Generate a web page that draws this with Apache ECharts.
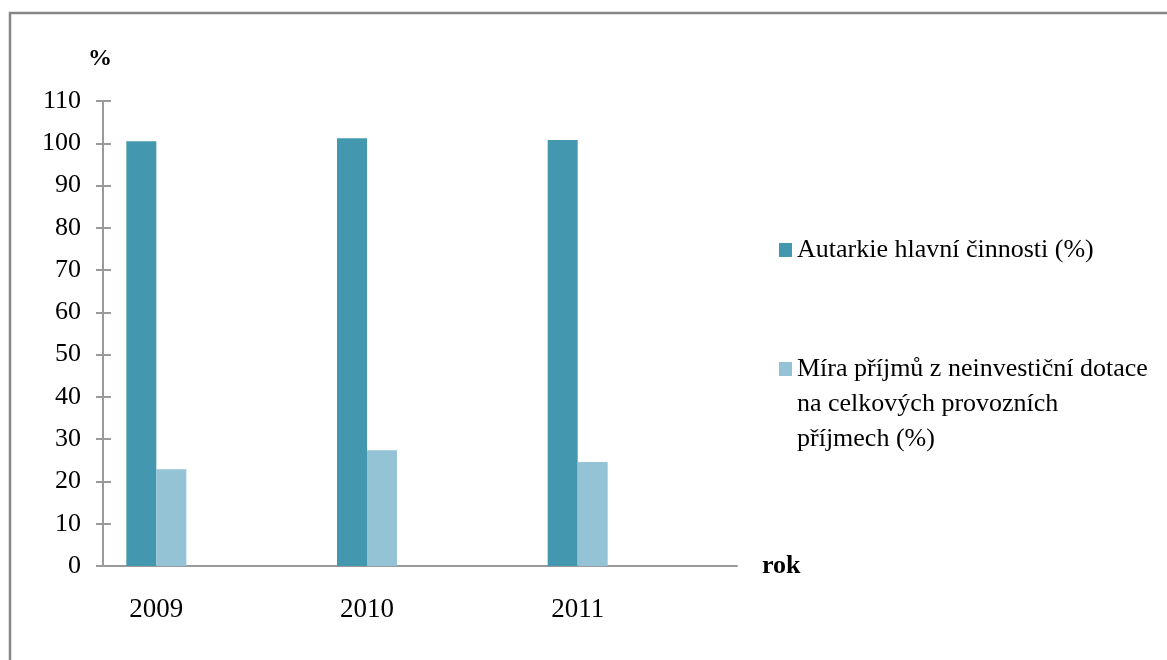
<!DOCTYPE html>
<html>
<head>
<meta charset="utf-8">
<script src="https://cdn.jsdelivr.net/npm/echarts@6/dist/echarts.min.js"></script>
<style>
  html, body { margin: 0; padding: 0; background: #fff; }
  #main { width: 1167px; height: 660px; }
</style>
</head>
<body>
<div id="main"></div>
<script>
// data
var years = ['2009', '2010', '2011'];
var autarkie = [100.5, 101.2, 100.8];
var miraPrijmu = [22.9, 27.4, 24.6];
var seriesNames = ['Autarkie hlavní činnosti (%)', 'Míra příjmů z neinvestiční dotace na celkových provozních příjmech (%)'];
// blank lines on top keep the icon level with the first text line
var legendLines = ['Autarkie hlavní činnosti (%)', '\n\nMíra příjmů z neinvestiční dotace\nna celkových provozních\npříjmech (%)'];

var font = 'Liberation Serif, Times New Roman, serif';
var axisColor = '#9a9a9a';

var myChart = echarts.init(document.getElementById('main'));

var option = {
    backgroundColor: '#fff',
    textStyle: { fontFamily: font, color: '#000' },
    graphic: [{
        type: 'rect',
        silent: true,
        shape: { x: 10, y: 13, width: 1200, height: 700 },
        style: { fill: 'none', stroke: '#878787', lineWidth: 2.5 }
    }],
    legend: [{
        orient: 'vertical',
        left: 779,
        top: 250 - 35 / 2,
        padding: 0,
        icon: 'rect',
        itemWidth: 13,
        itemHeight: 14,
        data: [seriesNames[0]],
        formatter: function (name) { return legendLines[0]; },
        textStyle: { fontFamily: font, fontSize: 26, color: '#000', lineHeight: 35 }
    }, {
        orient: 'vertical',
        left: 779,
        top: 369 - 5 * 35 / 2,
        padding: 0,
        icon: 'rect',
        itemWidth: 13,
        itemHeight: 14,
        data: [seriesNames[1]],
        formatter: function (name) { return legendLines[1]; },
        textStyle: { fontFamily: font, fontSize: 26, color: '#000', lineHeight: 35 }
    }],
    grid: [
        { left: 103, top: 101, width: 634, height: 465 },
        { left: 51, top: 101, width: 632, height: 465 }
    ],
    xAxis: [{
        gridIndex: 0,
        type: 'value',
        min: 0,
        max: 1,
        name: 'rok',
        nameLocation: 'end',
        nameGap: 25,
        nameTextStyle: { fontFamily: font, fontSize: 26, fontWeight: 'bold', color: '#000', verticalAlign: 'middle' },
        axisLine: { show: true, lineStyle: { color: axisColor, width: 2 } },
        axisTick: { show: false },
        axisLabel: { show: false },
        splitLine: { show: false }
    }, {
        gridIndex: 1,
        type: 'category',
        data: years,
        axisLine: { show: false },
        axisTick: { show: false },
        axisLabel: { margin: 30, fontFamily: font, fontSize: 27, color: '#000' },
        splitLine: { show: false }
    }],
    yAxis: [{
        gridIndex: 0,
        type: 'value',
        min: 0,
        max: 110,
        interval: 10,
        name: '%',
        nameLocation: 'end',
        nameGap: 30,
        nameTextStyle: { fontFamily: font, fontSize: 24, fontWeight: 'bold', color: '#000', align: 'center', padding: [0, 6, 0, 0] },
        axisLine: { show: true, lineStyle: { color: axisColor, width: 2 } },
        axisTick: { show: false },
        axisLabel: { margin: 22, fontFamily: font, fontSize: 26, color: '#000' },
        splitLine: { show: false }
    }, {
        // second grid's axis carries the ticks that cross the axis line
        gridIndex: 1,
        type: 'value',
        min: 0,
        max: 110,
        interval: 10,
        offset: -60,
        axisLine: { show: false },
        axisTick: { show: true, length: 15, lineStyle: { color: axisColor, width: 2 } },
        axisLabel: { show: false },
        splitLine: { show: false }
    }],
    series: [{
        name: seriesNames[0],
        type: 'bar',
        xAxisIndex: 1,
        yAxisIndex: 1,
        barWidth: 30,
        barGap: '0%',
        itemStyle: { color: '#4398af' },
        data: autarkie
    }, {
        name: seriesNames[1],
        type: 'bar',
        xAxisIndex: 1,
        yAxisIndex: 1,
        barWidth: 30,
        barGap: '0%',
        itemStyle: { color: '#94c3d5' },
        data: miraPrijmu
    }]
};

myChart.setOption(option);
</script>
</body>
</html>
